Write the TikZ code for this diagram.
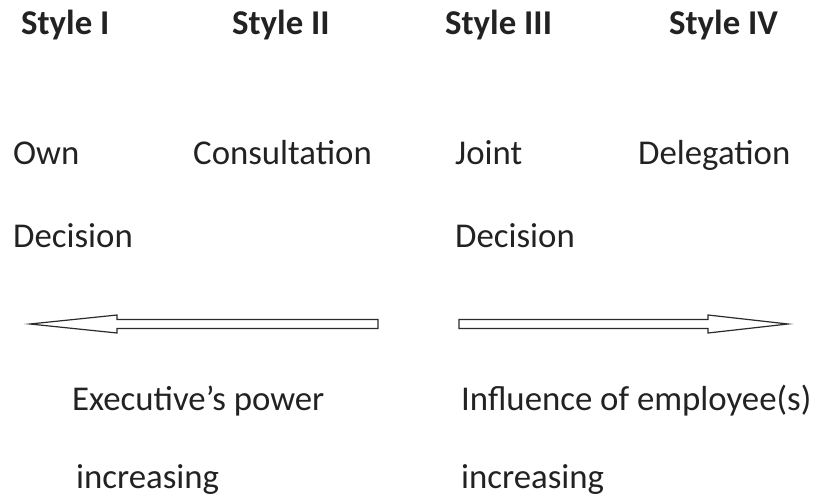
\documentclass[tikz,border=0pt]{standalone}
\usepackage{fontspec}
\setmainfont{Carlito}
\usetikzlibrary{calc}
\definecolor{ink}{HTML}{222222}
\definecolor{edge}{HTML}{2B2B2B}

\tikzset{
  lbl/.style={anchor=base west, inner sep=0pt, text=ink, font=\fontsize{34.8}{40}\selectfont},
  hd/.style={lbl, font=\fontsize{34.8}{40}\selectfont\bfseries},
  fatarrow/.style={draw=edge, line width=1.2pt, fill=white, line join=miter}
}

\begin{document}
\begin{tikzpicture}[x=1pt,y=-1pt]
  \useasboundingbox (0,0) rectangle (816,497);

  % style headings
  \node[hd] (s1) at (21,35)  {Style I};
  \node[hd] (s2) at (232,35) {Style II};
  \node[hd] (s3) at (445,35) {Style III};
  \node[hd] (s4) at (669,35) {Style IV};

  % kinds of decision
  \node[lbl] (own)     at (13,165)  {Own};
  \node[lbl] (ownd)    at (13,247)  {Decision};
  \node[lbl] (consult) at (193,165) {Consultation};
  \node[lbl] (joint)   at (455,165) {Joint};
  \node[lbl] (jointd)  at (455,247) {Decision};
  \node[lbl] (deleg)   at (638,165) {Delegation};

  % the two hollow arrows
  \coordinate (ltip)  at (30,324);
  \coordinate (ltail) at (378,324);
  \coordinate (rtail) at (459,324);
  \coordinate (rtip)  at (788,324);

  \draw[fatarrow] (ltip) -- ($(ltip)+(87,-9)$) -- ($(ltip)+(87,-4.5)$)
    -- ($(ltail)+(0,-4.5)$) -- ($(ltail)+(0,4.5)$) -- ($(ltip)+(87,4.5)$)
    -- ($(ltip)+(87,9)$) -- cycle;
  \draw[fatarrow] (rtip) -- ($(rtip)+(-80,-9)$) -- ($(rtip)+(-80,-4.5)$)
    -- ($(rtail)+(0,-4.5)$) -- ($(rtail)+(0,4.5)$) -- ($(rtip)+(-80,4.5)$)
    -- ($(rtip)+(-80,9)$) -- cycle;

  % what grows along each arrow
  \node[lbl] (power)  at (72,410)  {Executive’s power};
  \node[lbl] (powinc) at (76,488)  {increasing};
  \node[lbl] (infl)   at (461,410) {Influence of employee(s)};
  \node[lbl] (inflinc) at (461,488) {increasing};
\end{tikzpicture}
\end{document}
